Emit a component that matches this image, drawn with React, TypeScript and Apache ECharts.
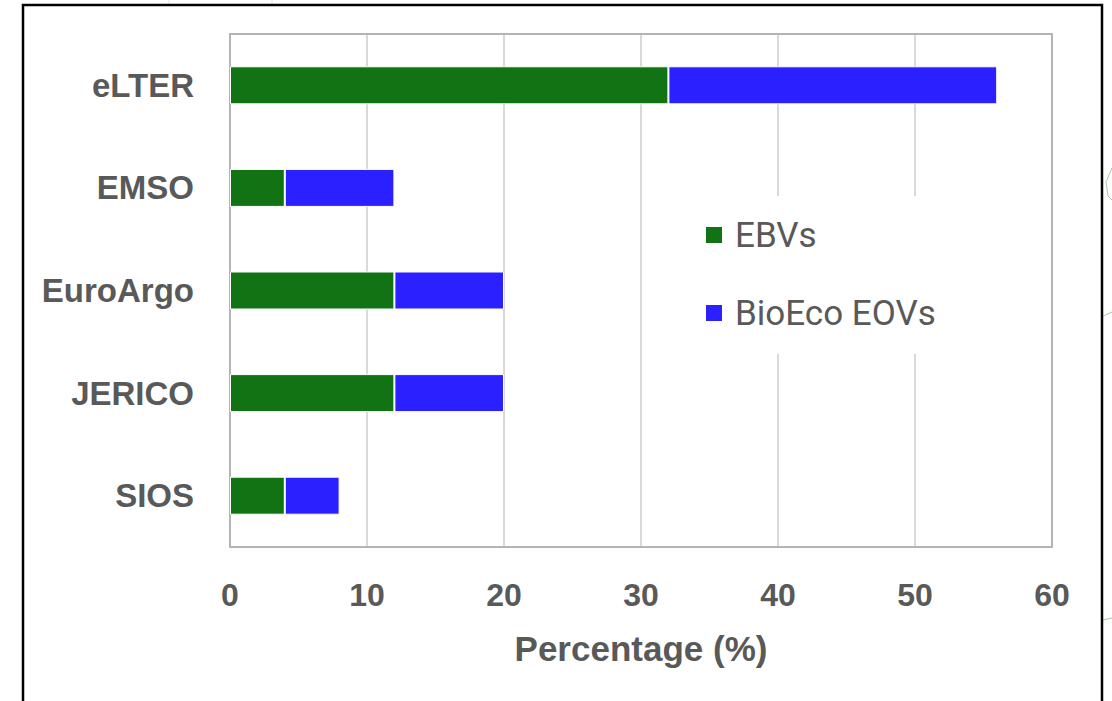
import React, { useEffect, useRef } from "react";
import * as echarts from "echarts";

const categories = ["eLTER", "EMSO", "EuroArgo", "JERICO", "SIOS"];
const ebvs = [32, 4, 12, 12, 4];
const bioEcoEovs = [24, 8, 8, 8, 4];
const xTicks = { min: 0, max: 60, interval: 10 };
const seriesNames = ["EBVs", "BioEco EOVs"];

const GREEN = "#117314";
const BLUE = "#2B20FF";
const TEXT = "#595959";

export default function App() {
  const ref = useRef<HTMLDivElement>(null);
  useEffect(() => {
    if (!ref.current) return;
    const chart = echarts.init(ref.current, null, { renderer: "svg" });
    chart.setOption({
      animation: false,
      backgroundColor: "#ffffff",
      grid: {
        left: 230,
        top: 34,
        right: 60,
        bottom: 154,
        show: true,
        borderColor: "#b4b4b4",
        borderWidth: 2,
        z: 1,
      },
      legend: {
        orient: "vertical",
        left: 688,
        top: 196,
        padding: [21, 18, 23, 16],
        backgroundColor: "#ffffff",
        itemWidth: 18,
        itemHeight: 18,
        itemGap: 42,
        icon: "rect",
        z: 10,
        textStyle: {
          fontFamily: "Roboto",
          fontSize: 35,
          lineHeight: 36,
          color: TEXT,
          padding: [0, 0, 0, 7],
        },
        data: seriesNames,
      },
      xAxis: {
        type: "value",
        min: xTicks.min,
        max: xTicks.max,
        interval: xTicks.interval,
        name: "Percentage (%)",
        nameLocation: "middle",
        nameGap: 84,
        nameTextStyle: {
          fontFamily: "Liberation Sans",
          fontWeight: "bold",
          fontSize: 35,
          color: TEXT,
        },
        axisLine: { show: false },
        axisTick: { show: false },
        axisLabel: {
          margin: 32,
          fontFamily: "Liberation Sans",
          fontWeight: "bold",
          fontSize: 32,
          color: TEXT,
        },
        splitLine: { show: true, lineStyle: { color: "#d9d9d9", width: 2 } },
      },
      yAxis: {
        type: "category",
        inverse: true,
        data: categories,
        axisLine: { show: false },
        axisTick: { show: false },
        axisLabel: {
          margin: 36,
          fontFamily: "Liberation Sans",
          fontWeight: "bold",
          fontSize: 33,
          color: TEXT,
        },
      },
      series: [
        {
          name: seriesNames[0],
          type: "bar",
          stack: "total",
          data: ebvs,
          barWidth: 38,
          itemStyle: { color: GREEN, borderColor: "#ffffff", borderWidth: 1 },
        },
        {
          name: seriesNames[1],
          type: "bar",
          stack: "total",
          data: bioEcoEovs,
          barWidth: 38,
          itemStyle: { color: BLUE, borderColor: "#ffffff", borderWidth: 1 },
        },
      ],
      graphic: [
        {
          type: "rect",
          shape: { x: 23, y: 5, width: 1079, height: 720 },
          style: { fill: "none", stroke: "#000000", lineWidth: 2.5 },
          z: 100,
        },
        {
          type: "line",
          shape: { x1: 169, y1: 0, x2: 169, y2: 4 },
          style: { stroke: "#dfe8dc", lineWidth: 1 },
        },
        {
          type: "line",
          shape: { x1: 272, y1: 0, x2: 272, y2: 4 },
          style: { stroke: "#dfe8dc", lineWidth: 1 },
        },
        {
          type: "polyline",
          shape: { points: [[1112, 168], [1106, 182], [1108, 196], [1112, 200]] },
          style: { stroke: "#a8c9a0", lineWidth: 1, fill: "none" },
        },
        {
          type: "line",
          shape: { x1: 1103, y1: 316, x2: 1112, y2: 312 },
          style: { stroke: "#a8c9a0", lineWidth: 1 },
        },
        {
          type: "line",
          shape: { x1: 1103, y1: 620, x2: 1112, y2: 618 },
          style: { stroke: "#a8c9a0", lineWidth: 1 },
        },
      ],
    });
    return () => chart.dispose();
  }, []);
  return (
    <div
      ref={ref}
      style={{ position: "fixed", left: 0, top: 0, width: 1112, height: 701 }}
    />
  );
}
